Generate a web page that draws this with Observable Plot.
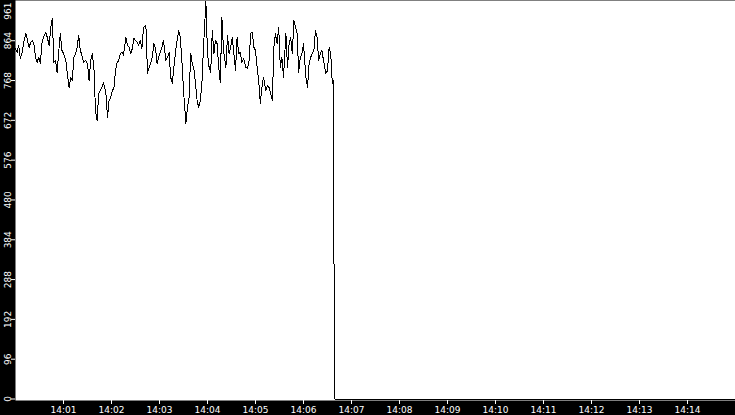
<!DOCTYPE html>
<html>
<head>
<meta charset="utf-8">
<script src="https://cdn.jsdelivr.net/npm/d3@7"></script>
<script src="https://cdn.jsdelivr.net/npm/@observablehq/plot@0.6"></script>
<style>
  html, body { margin: 0; padding: 0; background: #000; }
  #chart svg { display: block; }
</style>
</head>
<body>
<div id="chart"></div>
<script>
// seconds after 14:00:00
const seconds = [
  0,2,4,6,8,10,13,15,17,19,21,23,
  25,27,29,31,33,35,38,40,42,44,46,48,
  50,52,54,56,58,60,63,65,67,69,71,73,
  75,77,79,81,83,85,88,90,92,94,96,98,
  100,102,104,106,108,110,113,115,117,119,121,123,
  125,127,129,131,133,135,138,140,142,144,146,148,
  150,152,154,156,158,160,163,165,167,169,171,173,
  175,177,179,181,183,185,188,190,192,194,196,198,
  200,202,204,206,208,210,213,215,217,219,221,223,
  225,227,229,231,233,235,238,240,242,244,246,248,
  250,252,254,256,258,260,263,265,267,269,271,273,
  275,277,279,281,283,285,288,290,292,294,296,298,
  300,302,304,306,308,310,313,315,317,319,321,323,
  325,327,329,331,333,335,338,340,342,344,346,348,
  350,352,354,356,358,360,363,365,367,369,371,373,
  375,377,379,381,383,385,388,390,392,394,396,397,
  398,399,900
];
const values = [
  845,836,853,821,833,857,882,865,848,860,865,857,
  824,812,824,809,857,872,884,870,853,894,918,812,
  816,788,836,882,841,833,816,780,751,776,768,824,
  833,848,877,841,829,812,816,809,768,816,833,800,
  696,672,737,744,751,763,737,679,720,727,744,749,
  792,812,816,833,836,829,872,853,848,833,845,870,
  865,860,853,865,845,896,901,785,800,809,824,857,
  845,809,824,836,848,865,816,824,836,776,761,800,
  836,865,889,872,816,744,665,703,727,833,809,797,
  761,720,703,720,761,848,958,833,800,788,889,833,
  865,857,800,763,920,841,800,877,833,848,872,833,
  792,872,833,836,812,821,800,797,816,882,884,848,
  841,800,768,713,751,776,744,756,751,737,720,848,
  882,857,896,800,824,776,882,800,857,872,833,913,
  896,882,788,824,833,857,776,751,809,824,833,841,
  889,872,816,833,841,816,785,792,848,833,761,768,
  378,0,0
];
const yTicks = [0, 96, 192, 288, 384, 480, 576, 672, 768, 864, 961];
const yMax = 961;
const xTickLabels = ["14:01","14:02","14:03","14:04","14:05","14:06","14:07",
  "14:08","14:09","14:10","14:11","14:12","14:13","14:14"];
const xDomain = ["14:00", "14:15"];

const toDate = (hm, s = 0) => {
  const [h, m] = hm.split(":").map(Number);
  return new Date(Date.UTC(2020, 0, 1, h, m, s));
};
const data = seconds.map((s, i) => ({t: toDate("14:00", s), v: values[i]}));

const chart = Plot.plot({
  width: 735,
  height: 415,
  marginLeft: 15,
  marginRight: 0,
  marginTop: 0,
  marginBottom: 15,
  style: {background: "#000", fontFamily: "DejaVu Sans", fontSize: "9px"},
  x: {type: "utc", domain: xDomain.map(d => toDate(d))},
  y: {domain: [0, yMax], insetBottom: 1.5},
  marks: [
    Plot.frame({fill: "white", stroke: null}),
    Plot.axisX(xTickLabels.map(d => toDate(d)), {
      color: "white", tickSize: 4, tickPadding: 2, fontSize: 9,
      tickFormat: d3.utcFormat("%H:%M"), label: null
    }),
    Plot.axisY(yTicks.filter(d => d !== yMax), {
      color: "white", tickSize: 4, tickPadding: 1, fontSize: 9,
      tickRotate: -90, tickFormat: d => String(d), label: null
    }),
    Plot.text([yMax], {
      y: d => d, frameAnchor: "left", dx: -5, dy: 2, rotate: -90,
      textAnchor: "end", lineAnchor: "bottom", fill: "white", fontSize: 9,
      text: d => String(d)
    }),
    Plot.line(data, {x: "t", y: "v", stroke: "black", strokeWidth: 1, shapeRendering: "crispEdges"})
  ]
});
document.getElementById("chart").appendChild(chart);
</script>
</body>
</html>
